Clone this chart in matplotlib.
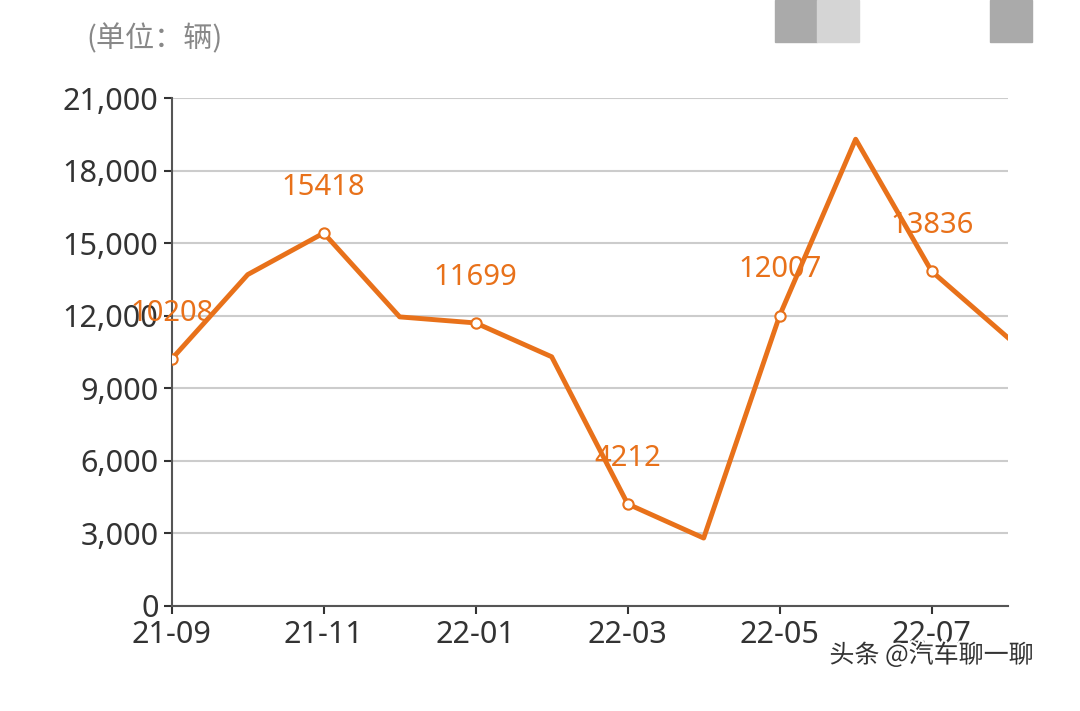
import matplotlib
matplotlib.use('Agg')
import matplotlib.pyplot as plt
import matplotlib.patheffects as pe
from matplotlib.patches import Rectangle

plt.rcParams['font.family'] = ['Noto Sans', 'Noto Sans CJK SC', 'DejaVu Sans']

months = ['21-09','21-10','21-11','21-12','22-01','22-02','22-03','22-04','22-05','22-06','22-07','22-08']
values = [10208, 13700, 15418, 11950, 11699, 10300, 4212, 2800, 12007, 19300, 13836, 11100]
labeled = [0, 2, 4, 6, 8, 10]
yticks = [0, 3000, 6000, 9000, 12000, 15000, 18000, 21000]

color = '#E8711A'
fig = plt.figure(figsize=(10.8, 7.11), dpi=100)
ax = fig.add_axes([0.159, 0.148, 0.774, 0.714])
x = list(range(len(months)))
ax.plot(x, values, color=color, lw=3.5, zorder=3)
ax.scatter([x[i] for i in labeled], [values[i] for i in labeled], s=55,
           facecolor='white', edgecolor=color, lw=1.5, zorder=4)
for i in labeled:
    ax.text(x[i], values[i] + 1300, str(values[i]), color=color, fontsize=21,
            ha='center', va='bottom', zorder=5)
ax.set_xlim(0, len(months) - 1)
ax.set_ylim(0, 21000)
ax.set_yticks(yticks)
ax.set_yticklabels([f'{v:,}' for v in yticks])
ax.set_xticks(x[::2])
ax.set_xticklabels(months[::2])
ax.tick_params(labelsize=22, colors='#333333', length=6, width=1.5)
ax.tick_params(axis='x', pad=4)
ax.grid(axis='y', color='#cccccc', lw=1.5)
ax.set_axisbelow(True)
for s in ['top', 'right']:
    ax.spines[s].set_visible(False)
for s in ['left', 'bottom']:
    ax.spines[s].set_color('#555555')
    ax.spines[s].set_linewidth(1.5)
fig.text(0.08, 0.945, '(单位：辆)', fontsize=21, color='#888888', va='center',
         family=['Noto Sans CJK SC', 'DejaVu Sans'])
for (x0, w, c) in [(775, 42, '#aaaaaa'), (817, 42, '#d5d5d5'), (990, 42, '#aaaaaa')]:
    fig.patches.append(Rectangle((x0/1080, 1-42/711), w/1080, 42/711,
                                 transform=fig.transFigure, color=c))
fig.text(0.768, 0.078, '头条 @汽车聊一聊', fontsize=18, color='#333333', va='center',
         family=['Noto Sans CJK SC', 'DejaVu Sans'],
         path_effects=[pe.withStroke(linewidth=3, foreground='white')])
fig.savefig('out.png', dpi=100)
